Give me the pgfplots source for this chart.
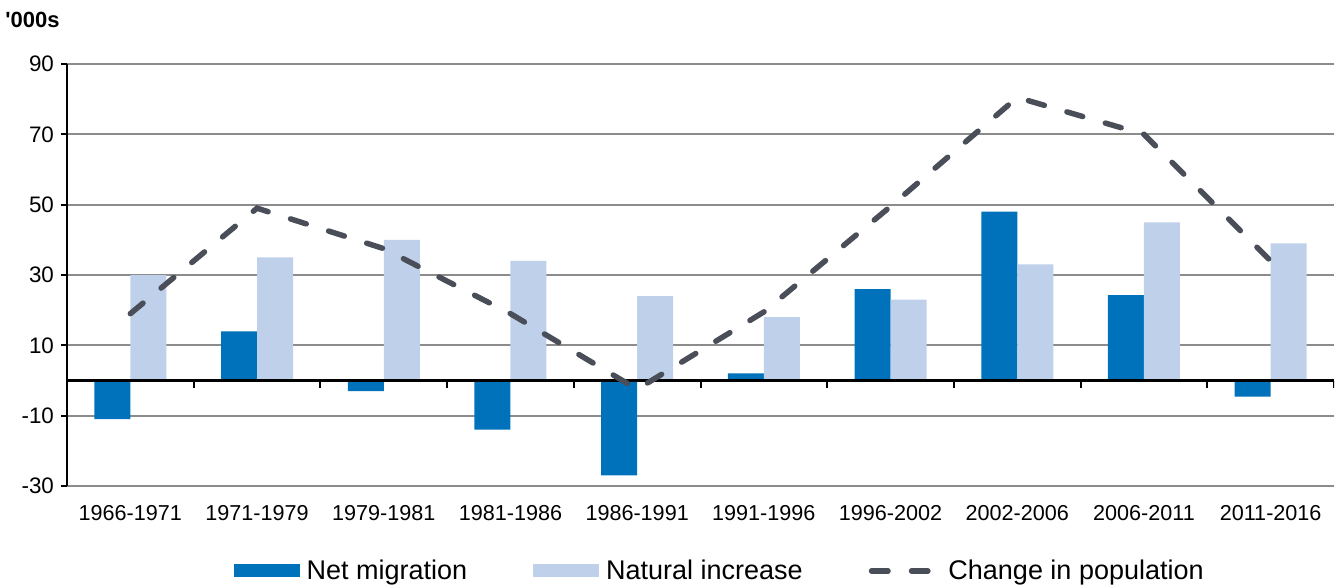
\documentclass[border=0pt]{standalone}
\usepackage{fontspec}
\setmainfont{Liberation Sans}
\usepackage{pgfplots}
\pgfplotsset{compat=1.18}
\definecolor{netmig}{RGB}{0,114,188}
\definecolor{natinc}{RGB}{191,208,234}
\definecolor{chg}{RGB}{74,78,88}
\definecolor{gridc}{RGB}{140,140,140}

\pgfplotstableread{
x net nat chg
0 -11 30 19
1 14 35 49
2 -3 40 37.5
3 -14 34 19
4 -27 24 -2.5
5 2 18 19.5
6 26 23 49.5
7 48 33 80.5
8 24.3 45 70
9 -4.6 39 34
}\datatable

\begin{document}
\begin{tikzpicture}
\path[use as bounding box] (-33.5pt,-51pt) rectangle (635.5pt,243pt);
\begin{axis}[
  scale only axis, width=633.5pt, height=211pt,
  at={(0,0)}, anchor=south west,
  xmin=-0.5, xmax=9.5, ymin=-30, ymax=90,
  axis y line=left, axis x line=bottom,
  x axis line style={draw=none},
  y axis line style={-, line width=1pt, black},
  xtick={0,...,9},
  xticklabels={1966-1971,1971-1979,1979-1981,1981-1986,1986-1991,1991-1996,1996-2002,2002-2006,2006-2011,2011-2016},
  xtick style={draw=none},
  xticklabel style={font=\fontsize{10.8}{12}\selectfont, yshift=-3pt},
  ytick={-30,-10,10,30,50,70,90},
  yticklabel style={font=\fontsize{11.2}{12}\selectfont},
  ytick style={black, line width=1pt},
  major tick length=3pt, tick align=outside,
  /pgf/number format/assume math mode=true,
  ymajorgrids, y grid style={gridc, line width=0.9pt},
  legend columns=3,
  legend style={at={(0.5155,-0.2014)}, anchor=center, draw=none, fill=none,
    font=\fontsize{13.5}{16}\selectfont,
    /tikz/every even column/.append style={column sep=31.5pt},
    nodes={inner sep=1.5pt}},
]
\addplot[ybar, bar width=18pt, bar shift=-9pt, fill=netmig, draw=none,
  legend image code/.code={\fill[netmig] (0pt,-3.25pt) rectangle (33pt,3.25pt); \path (35pt,0pt);}]
  table[x=x, y=net] {\datatable};
\addlegendentry{Net migration}
\addplot[ybar, bar width=18pt, bar shift=9pt, fill=natinc, draw=none,
  legend image code/.code={\fill[natinc] (0pt,-3.25pt) rectangle (33pt,3.25pt); \path (35pt,0pt);}]
  table[x=x, y=nat] {\datatable};
\addlegendentry{Natural increase}
\draw[black, line width=1.1pt] (axis cs:-0.5,0) -- (axis cs:9.5,0);
\pgfplotsinvokeforeach{-0.5,0.5,...,9.5}{
  \draw[black, line width=1pt] (axis cs:#1,0) -- ([yshift=-3.5pt]axis cs:#1,0);
}
\addplot[chg, line width=2.75pt, line cap=round, dash pattern=on 8.25pt off 11.75pt,
  legend image code/.code={\draw[chg, line width=2.75pt, line cap=round, dash pattern=on 8.25pt off 11.75pt] (1.4pt,0pt) -- (29.6pt,0pt); \path (37pt,0pt);}]
  table[x=x, y=chg] {\datatable};
\addlegendentry{Change in population}
\end{axis}
\node[anchor=base west, inner sep=0pt, font=\bfseries\fontsize{11}{12}\selectfont] at (-31pt,229pt) {\textquotesingle000s};
\end{tikzpicture}
\end{document}
